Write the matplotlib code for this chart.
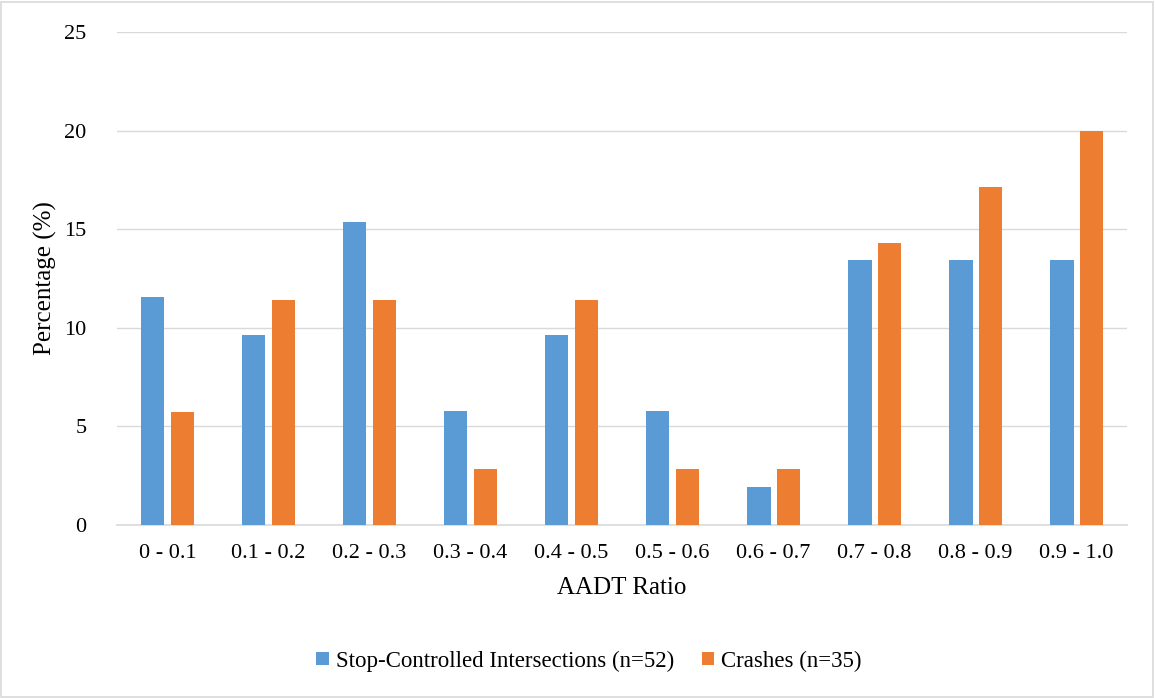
import matplotlib.pyplot as plt
import numpy as np
from matplotlib.patches import Rectangle

# data
ratios = ["0 - 0.1", "0.1 - 0.2", "0.2 - 0.3", "0.3 - 0.4", "0.4 - 0.5",
          "0.5 - 0.6", "0.6 - 0.7", "0.7 - 0.8", "0.8 - 0.9", "0.9 - 1.0"]
intersections = [11.54, 9.62, 15.38, 5.77, 9.62, 5.77, 1.92, 13.46, 13.46, 13.46]
crashes = [5.71, 11.43, 11.43, 2.86, 11.43, 2.86, 2.86, 14.29, 17.14, 20.0]

plt.rcParams['font.family'] = ['Liberation Serif', 'DejaVu Serif']

fig = plt.figure(figsize=(11.55, 6.98), dpi=100)
ax = fig.add_axes([0.1013, 0.2479, 0.8745, 0.7063])

x = np.arange(len(ratios))
w = 0.23
ax.bar(x - 0.145, intersections, w, color="#5B9BD5",
       label="Stop-Controlled Intersections (n=52)", zorder=3)
ax.bar(x + 0.145, crashes, w, color="#ED7D31",
       label="Crashes (n=35)", zorder=3)

ax.set_xlim(-0.5, len(ratios) - 0.5)
ax.set_ylim(0, 25)
ax.set_yticks(range(0, 26, 5))
ax.set_xticks(x)
ax.set_xticklabels(ratios)
ax.grid(axis="y", color="#D9D9D9", linewidth=1, zorder=0)
for s in ["top", "right", "left"]:
    ax.spines[s].set_visible(False)
ax.spines["bottom"].set_color("#D9D9D9")
ax.spines["bottom"].set_linewidth(1.2)
ax.tick_params(axis="both", length=0, labelsize=16, colors="#404040", labelcolor="black")
ax.tick_params(axis="x", pad=14)
ax.tick_params(axis="y", pad=22)

ax.set_xlabel("AADT Ratio", fontsize=18, labelpad=10)
ax.set_ylabel("Percentage (%)", fontsize=18, labelpad=5)

fig.legend(loc="center", bbox_to_anchor=(0.51, 0.053), ncol=2, frameon=False,
           fontsize=16.5, handlelength=0.55, handleheight=0.55, columnspacing=1.2,
           handletextpad=0.3)

# light border around the whole chart
fig.patches.append(Rectangle((0.001, 0.002), 0.997, 0.995, transform=fig.transFigure,
                             fill=False, edgecolor="#D9D9D9", linewidth=1.2))

fig.savefig("out.png", dpi=100)
